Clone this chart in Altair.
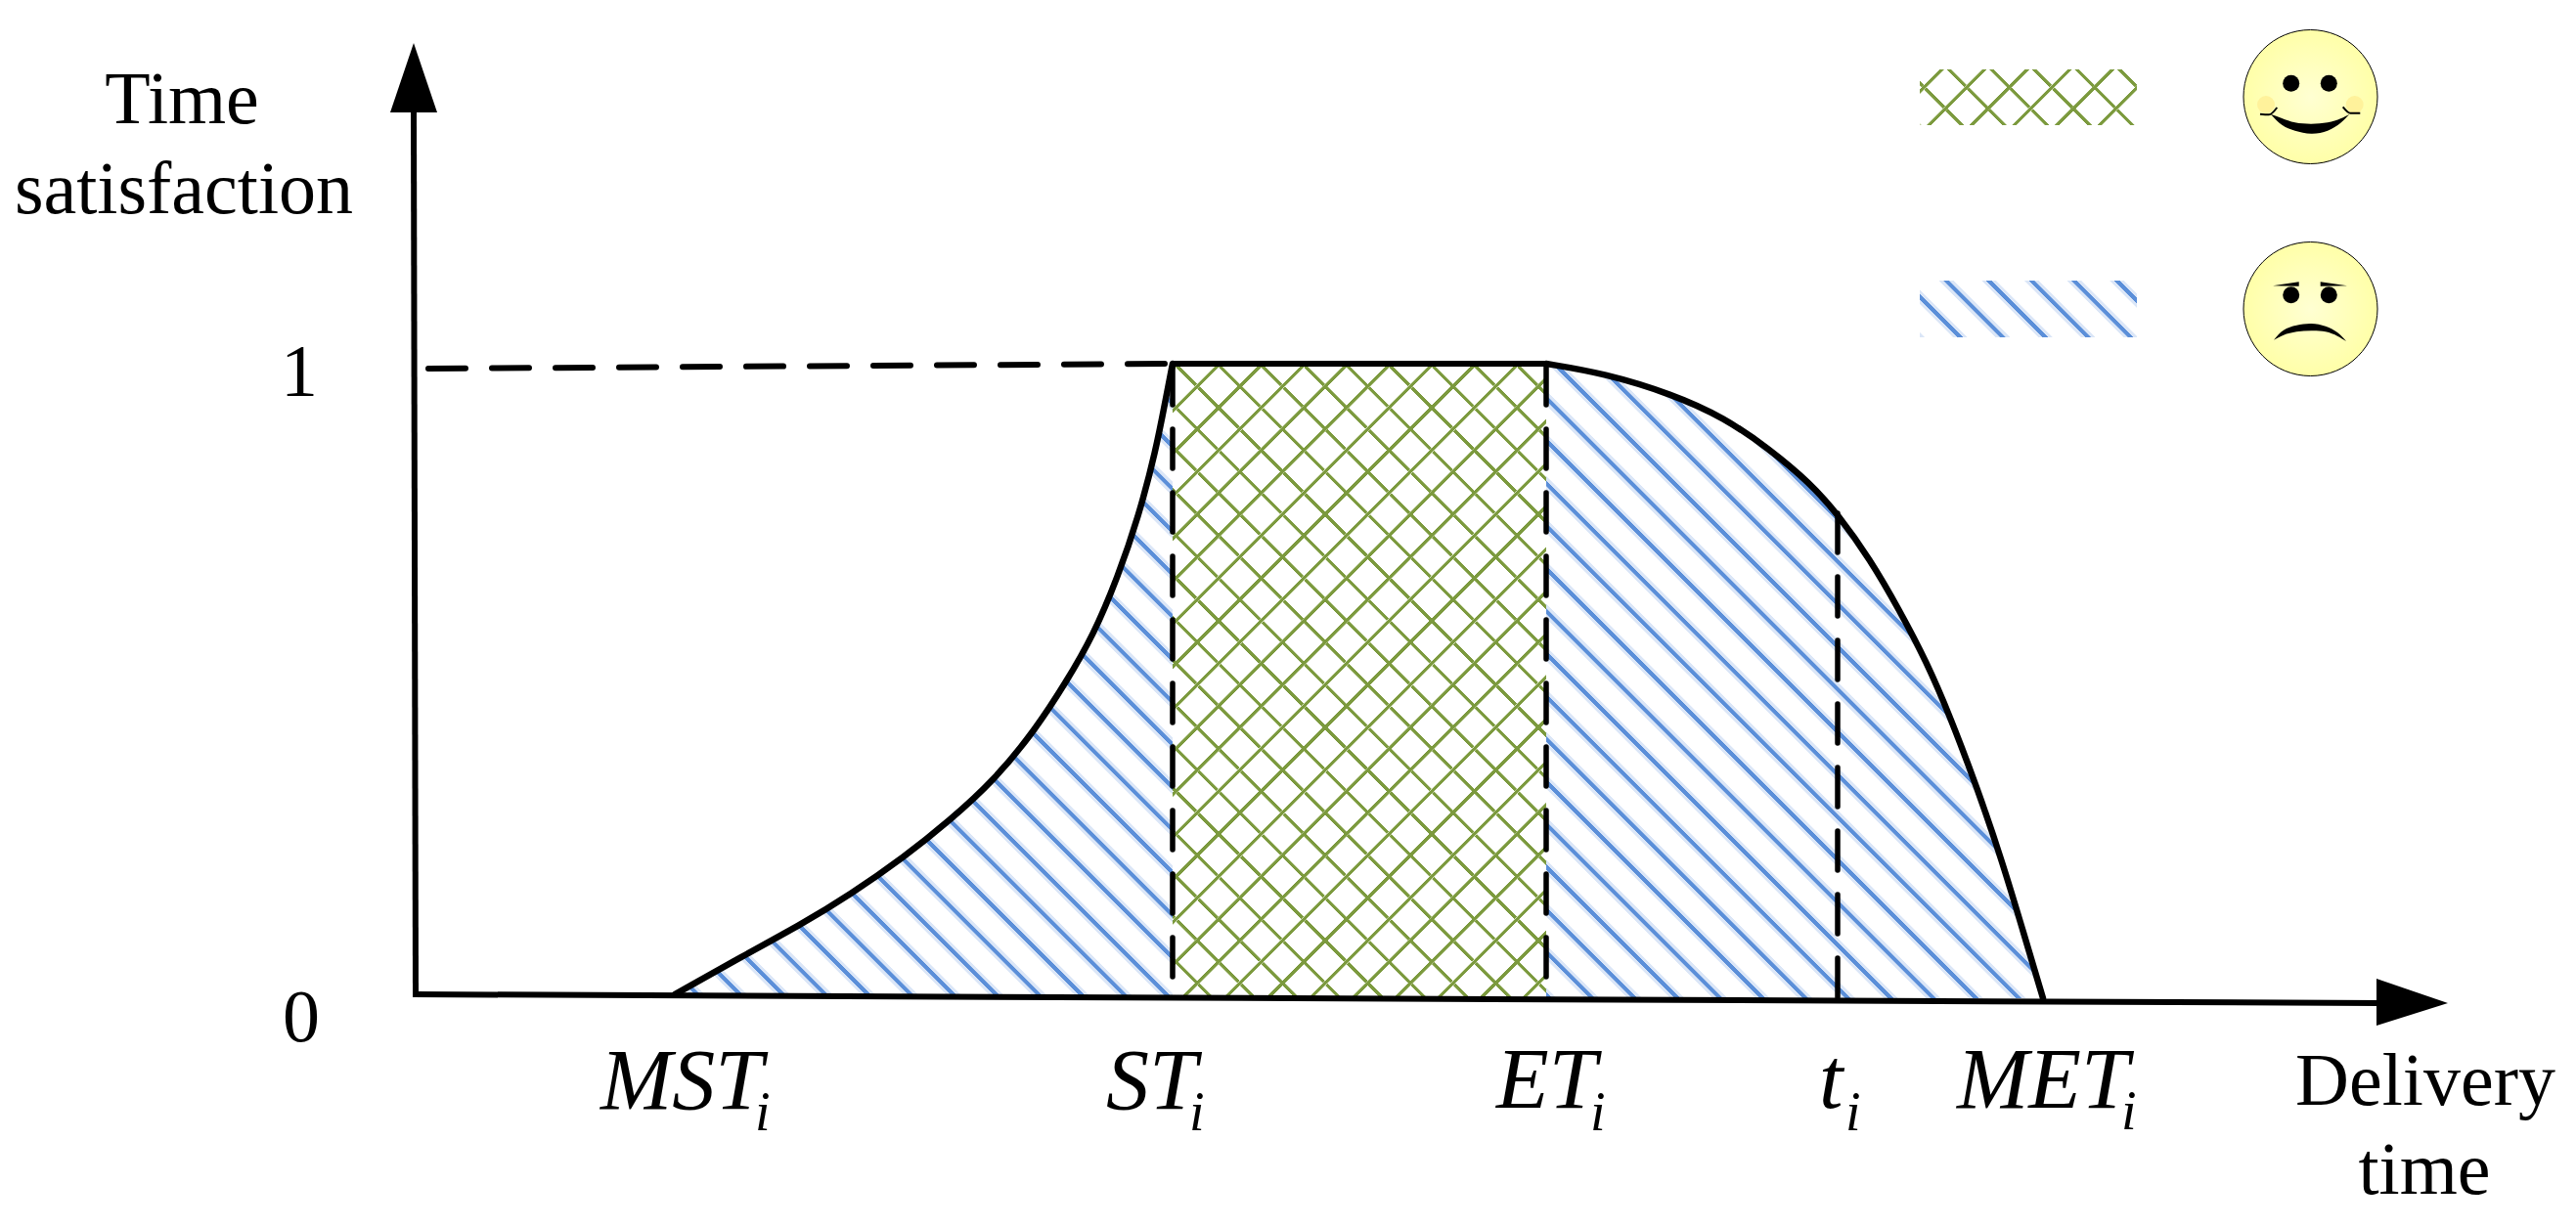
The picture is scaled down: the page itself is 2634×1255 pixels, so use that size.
import altair as alt
import pandas as pd

# picture positions: x is in picture pixels, satisfaction 0 sits at y 1021 and 1 at y 372
Y_ZERO = 1021
Y_ONE = 372

# satisfaction curve
rise_time = [690, 759, 820, 869, 925, 971, 1017, 1059, 1090, 1118, 1143, 1164, 1182, 1192, 1199]
rise_sat = [0.006, 0.066, 0.117, 0.163, 0.223, 0.280, 0.344, 0.424, 0.498, 0.572, 0.664, 0.758, 0.864, 0.945, 1.0]
fall_time = [1581, 1640, 1710, 1763, 1808, 1851, 1880, 1912, 1942, 1970, 1994, 2022, 2047, 2068, 2089]
fall_sat = [1.0, 0.985, 0.952, 0.915, 0.867, 0.812, 0.761, 0.692, 0.612, 0.530, 0.444, 0.330, 0.217, 0.109, 0.0]

# text
plain_labels = ["Time", "satisfaction", "1", "0", "Delivery", "time"]
plain_x = [186, 188, 306, 308, 2480, 2479]
plain_y = [126, 218, 405, 1065, 1130, 1221]
main_labels = ["MST", "ST", "ET", "t", "MET"]
main_x = [614, 1131, 1530, 1860, 2001]
main_y = [1134, 1134, 1133, 1133, 1133]
sub_x = [772, 1216, 1626, 1887, 2169]
sub_y = [1156, 1156, 1156, 1156, 1155]

# dashed guides: x, y start, y end
guide_x = [1199, 1581, 1879]
guide_top = [374, 374, 525]
guide_bottom = [1020, 1020, 1021]

# legend swatches
swatch_left, swatch_right = 1963, 2185
green_top, green_bottom = 71, 128
blue_top, blue_bottom = 287, 345

# faces
face_x = [2362.5, 2362.5]
face_y = [99, 316]
eye_x = [2342.7, 2381.3, 2342.7, 2381.3]
eye_y = [85.3, 85.3, 301.7, 301.7]
cheek_x = [2317, 2407.7]
cheek_y = [107, 107]
smile_x = [2321.7, 2333.3, 2346.7, 2363.3, 2380, 2393.3, 2402.3]
smile_upper = [116.7, 121, 125.3, 126.7, 125.3, 121.3, 116.7]
smile_lower = [116.7, 127.7, 133.7, 136.7, 133.7, 125.7, 116.7]
frown_x = [2325, 2335, 2348.3, 2363.3, 2378, 2390, 2399]
frown_upper = [347.7, 337.7, 332.7, 331, 333.7, 340, 349]
frown_lower = [347.7, 342.7, 339.3, 338.3, 339.3, 343.7, 349]
brow_left_x = [2324, 2350.7]
brow_upper_left = [292.3, 288.3]
brow_lower_left = [292.3, 292.7]
brow_right_x = [2372.7, 2400]
brow_upper_right = [288.3, 292.3]
brow_lower_right = [292.7, 292.3]

GREEN = "#7c9a3e"
GREEN_SOFT = "#d3dfbb"
BLUE = "#5b8fd9"
BLUE_SOFT = "#dbe6f7"
CLEAR = "rgba(255,255,255,0)"
SERIF = "Liberation Serif"
PERIOD = 43.6

GREEN_LINE = [(-2.8, CLEAR), (-2.4, GREEN_SOFT), (-2, GREEN), (2, GREEN), (2.4, GREEN_SOFT), (2.8, CLEAR)]
BLUE_LINE = [(-8, CLEAR), (-7, BLUE_SOFT), (-3.2, BLUE_SOFT), (-2.6, BLUE), (2.6, BLUE), (3.2, BLUE_SOFT), (7, BLUE_SOFT), (8, CLEAR)]


def sat(py):
    return (Y_ZERO - py) / (Y_ZERO - Y_ONE)


x_scale = alt.Scale(domain=[8, 2626], nice=False, zero=False)
y_scale = alt.Scale(domain=[sat(1247), sat(8)], nice=False, zero=False)


def X(name="x"):
    return alt.X(f"{name}:Q", scale=x_scale, axis=None)


def Y(name="y"):
    return alt.Y(f"{name}:Q", scale=y_scale, axis=None)


def hatch(box, sign, phase, profile):
    # striped fill: one linear gradient with hard stops, lines at 45 degrees
    x0, y0, x1, y1 = box
    w, h = x1 - x0, y1 - y0
    span = w + h
    k = span / (w * w + h * h)
    if sign < 0:
        start = x0 - y1
        ends = dict(x1=0, y1=1, x2=k * w, y2=1 - k * h)
    else:
        start = x0 + y0
        ends = dict(x1=0, y1=0, x2=k * w, y2=k * h)
    stops = [alt.GradientStop(color=CLEAR, offset=0)]
    n = int((start - phase) // PERIOD) - 1
    while phase + n * PERIOD < start + span + 10:
        for delta, colour in profile:
            off = (phase + n * PERIOD + delta - start) / span
            if 0 < off < 1:
                stops.append(alt.GradientStop(color=colour, offset=round(off, 5)))
        n += 1
    stops.append(alt.GradientStop(color=CLEAR, offset=1))
    return alt.LinearGradient(gradient="linear", stops=stops, **ends)


def area_layer(df, fill, interpolate="basis"):
    return alt.Chart(df).mark_area(fill=fill, interpolate=interpolate, orient="vertical").encode(
        x=X(), y=Y(), y2=alt.Y2("y2:Q")
    )


def rect_layer(box, fill):
    x0, y0, x1, y1 = box
    df = pd.DataFrame({"x": [x0], "x2": [x1], "y": [sat(y0)], "y2": [sat(y1)]})
    return alt.Chart(df).mark_rect(fill=fill).encode(
        x=X(), x2=alt.X2("x2:Q"), y=Y(), y2=alt.Y2("y2:Q")
    )


def rule_layer(xa, ya, xb, yb, width, **mark):
    df = pd.DataFrame({"x": xa, "x2": xb, "y": [sat(v) for v in ya], "y2": [sat(v) for v in yb]})
    return alt.Chart(df).mark_rule(color="black", strokeWidth=width, **mark).encode(
        x=X(), x2=alt.X2("x2:Q"), y=Y(), y2=alt.Y2("y2:Q")
    )


def text_layer(labels, xs, ys, size, **mark):
    df = pd.DataFrame({"label": labels, "x": xs, "y": [sat(v) for v in ys]})
    return alt.Chart(df).mark_text(font=SERIF, fontSize=size, baseline="alphabetic", color="black", **mark).encode(
        x=X(), y=Y(), text="label:N"
    )


def dots(xs, ys, diameter, fill, **mark):
    df = pd.DataFrame({"x": xs, "y": [sat(v) for v in ys]})
    return alt.Chart(df).mark_point(shape="circle", filled=True, size=diameter * diameter, fill=fill, opacity=1, **mark).encode(
        x=X(), y=Y()
    )


def blob(xs, upper, lower, interpolate="natural"):
    df = pd.DataFrame({"x": xs, "y": [sat(v) for v in upper], "y2": [sat(v) for v in lower]})
    return area_layer(df, "black", interpolate)


def stroke(xs, ys, width):
    df = pd.DataFrame({"x": xs, "y": [sat(v) for v in ys], "o": range(len(xs))})
    return alt.Chart(df).mark_line(color="black", strokeWidth=width, interpolate="monotone").encode(
        x=X(), y=Y(), order="o:Q"
    )


def curve_line(df):
    return alt.Chart(df).mark_line(color="black", strokeWidth=6.5, interpolate="basis", strokeCap="round").encode(x=X(), y=Y())


left_box = (rise_time[0], Y_ONE, rise_time[-1], Y_ZERO)
right_box = (fall_time[0], Y_ONE, fall_time[-1], Y_ZERO)
mid_box = (rise_time[-1], Y_ONE, fall_time[0], Y_ZERO)
green_box = (swatch_left, green_top, swatch_right, green_bottom)
blue_box = (swatch_left, blue_top, swatch_right, blue_bottom)

rise_df = pd.DataFrame({"x": rise_time, "y": rise_sat, "y2": [0.0] * len(rise_time)})
fall_df = pd.DataFrame({"x": fall_time, "y": fall_sat, "y2": [0.0] * len(fall_time)})

face_fill = alt.RadialGradient(
    gradient="radial", x1=0.5, y1=0.5, r1=0, x2=0.5, y2=0.5, r2=0.55,
    stops=[alt.GradientStop(color="#ffffd2", offset=0), alt.GradientStop(color="#ffffa4", offset=1)],
)

# arrow heads: x, upper and lower edge
head_x_df = pd.DataFrame({"x": [2430, 2503], "y": [sat(1001), sat(1026)], "y2": [sat(1049), sat(1026)]})
head_y_df = pd.DataFrame({"y": [sat(115), sat(44)], "x": [399, 423], "x2": [447, 423]})

layers = [
    area_layer(rise_df, hatch(left_box, -1, 1.3, BLUE_LINE)),
    area_layer(fall_df, hatch(right_box, -1, 40.4, BLUE_LINE)),
    rect_layer(mid_box, hatch(mid_box, -1, 829 % PERIOD, GREEN_LINE)),
    rect_layer(mid_box, hatch(mid_box, 1, 1663 % PERIOD, GREEN_LINE)),
    rect_layer(green_box, hatch(green_box, -1, 1921.7 % PERIOD, GREEN_LINE)),
    rect_layer(green_box, hatch(green_box, 1, 2100.3 % PERIOD, GREEN_LINE)),
    rect_layer(blue_box, hatch(blue_box, -1, 1703 % PERIOD, BLUE_LINE)),
    curve_line(rise_df),
    curve_line(fall_df),
    rule_layer([rise_time[-1]], [Y_ONE], [fall_time[0]], [Y_ONE], 6),
    rule_layer([438], [377], [1199], [372], 6, strokeDash=[38, 27], strokeCap="round"),
    rule_layer(guide_x, guide_top, guide_x, guide_bottom, 5.5, strokeDash=[40, 25], strokeCap="round"),
    rule_layer([423], [115], [425], [1017], 6, strokeCap="square"),
    rule_layer([425], [1017], [2430], [1026], 6, strokeCap="square"),
    alt.Chart(head_x_df).mark_area(color="black", orient="vertical").encode(x=X(), y=Y(), y2=alt.Y2("y2:Q")),
    alt.Chart(head_y_df).mark_area(color="black", orient="horizontal").encode(x=X(), x2=alt.X2("x2:Q"), y=Y()),
    text_layer(plain_labels, plain_x, plain_y, 76, align="center"),
    text_layer(main_labels, main_x, main_y, 88, align="left", fontStyle="italic"),
    text_layer(["i"] * 5, sub_x, sub_y, 56, align="left", fontStyle="italic"),
    dots(face_x, face_y, 137, face_fill, stroke="black", strokeWidth=1),
    dots(cheek_x, cheek_y, 18, "#fff29b"),
    dots(eye_x, eye_y, 17, "black"),
    blob(smile_x, smile_upper, smile_lower),
    stroke([2311, 2320, 2328.3], [116.7, 117.3, 110], 2),
    stroke([2395.7, 2403.3, 2413.3], [109.3, 115.7, 115.7], 2),
    blob(frown_x, frown_upper, frown_lower),
    blob(brow_left_x, brow_upper_left, brow_lower_left, "linear"),
    blob(brow_right_x, brow_upper_right, brow_lower_right, "linear"),
]

chart = alt.layer(*layers).properties(
    width=2618,
    height=1239,
    padding=0,
    autosize=alt.AutoSizeParams(type="none"),
    background="white",
).configure_view(strokeWidth=0)

chart.save("out.html", embed_options={"renderer": "svg", "actions": False})
